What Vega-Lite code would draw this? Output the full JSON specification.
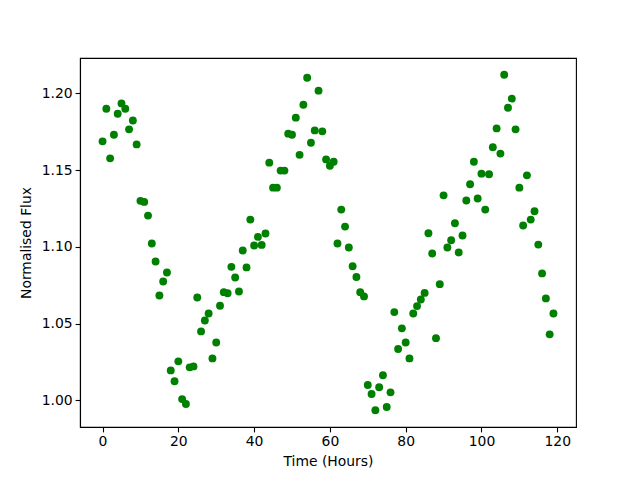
{
  "$schema": "https://vega.github.io/schema/vega-lite/v6.json",
  "autosize": {"type": "none"},
  "padding": {"left": 80, "top": 58, "right": 64, "bottom": 53},
  "width": 496,
  "height": 369,
  "background": "white",
  "config": {
    "view": {"stroke": "black", "strokeWidth": 1.1},
    "font": "DejaVu Sans",
    "axis": {
      "grid": false,
      "domainColor": "black",
      "domainWidth": 1.1,
      "tickColor": "black",
      "tickWidth": 1.1,
      "tickSize": 4.9,
      "labelColor": "black",
      "labelFont": "DejaVu Sans",
      "labelFontSize": 13.9,
      "labelPadding": 3,
      "titleColor": "black",
      "titleFont": "DejaVu Sans",
      "titleFontSize": 13.9,
      "titleFontWeight": "normal"
    }
  },
  "data": {
    "values": [
      {"t":0,"f":1.1688},{"t":1,"f":1.1900},{"t":2,"f":1.1577},{"t":3,"f":1.1731},{"t":4,"f":1.1868},
      {"t":5,"f":1.1935},{"t":6,"f":1.1900},{"t":7,"f":1.1766},{"t":8,"f":1.1824},{"t":9,"f":1.1668},
      {"t":10,"f":1.1300},{"t":11,"f":1.1293},{"t":12,"f":1.1204},{"t":13,"f":1.1022},{"t":14,"f":1.0905},
      {"t":15,"f":1.0683},{"t":16,"f":1.0774},{"t":17,"f":1.0833},{"t":18,"f":1.0195},{"t":19,"f":1.0124},
      {"t":20,"f":1.0254},{"t":21,"f":1.0008},{"t":22,"f":0.9976},{"t":23,"f":1.0215},{"t":24,"f":1.0221},
      {"t":25,"f":1.0670},{"t":26,"f":1.0449},{"t":27,"f":1.0520},{"t":28,"f":1.0566},{"t":29,"f":1.0273},
      {"t":30,"f":1.0377},{"t":31,"f":1.0616},{"t":32,"f":1.0705},{"t":33,"f":1.0698},{"t":34,"f":1.0870},
      {"t":35,"f":1.0800},{"t":36,"f":1.0709},{"t":37,"f":1.0976},{"t":38,"f":1.0866},{"t":39,"f":1.1178},
      {"t":40,"f":1.1009},{"t":41,"f":1.1065},{"t":42,"f":1.1013},{"t":43,"f":1.1087},{"t":44,"f":1.1549},
      {"t":45,"f":1.1386},{"t":46,"f":1.1386},{"t":47,"f":1.1497},{"t":48,"f":1.1497},{"t":49,"f":1.1738},
      {"t":50,"f":1.1731},{"t":51,"f":1.1842},{"t":52,"f":1.1600},{"t":53,"f":1.1926},{"t":54,"f":1.2102},
      {"t":55,"f":1.1679},{"t":56,"f":1.1759},{"t":57,"f":1.2018},{"t":58,"f":1.1753},{"t":59,"f":1.1570},
      {"t":60,"f":1.1529},{"t":61,"f":1.1555},{"t":62,"f":1.1022},{"t":63,"f":1.1243},{"t":64,"f":1.1132},
      {"t":65,"f":1.0996},{"t":66,"f":1.0874},{"t":67,"f":1.0804},{"t":68,"f":1.0705},{"t":69,"f":1.0677},
      {"t":70,"f":1.0100},{"t":71,"f":1.0041},{"t":72,"f":0.9935},{"t":73,"f":1.0085},{"t":74,"f":1.0163},
      {"t":75,"f":0.9956},{"t":76,"f":1.0052},{"t":77,"f":1.0575},{"t":78,"f":1.0334},{"t":79,"f":1.0469},
      {"t":80,"f":1.0377},{"t":81,"f":1.0273},{"t":82,"f":1.0566},{"t":83,"f":1.0614},{"t":84,"f":1.0657},
      {"t":85,"f":1.0700},{"t":86,"f":1.1089},{"t":87,"f":1.0957},{"t":88,"f":1.0405},{"t":89,"f":1.0757},
      {"t":90,"f":1.1336},{"t":91,"f":1.0996},{"t":92,"f":1.1043},{"t":93,"f":1.1154},{"t":94,"f":1.0963},
      {"t":95,"f":1.1074},{"t":96,"f":1.1302},{"t":97,"f":1.1408},{"t":98,"f":1.1555},{"t":99,"f":1.1315},
      {"t":100,"f":1.1477},{"t":101,"f":1.1243},{"t":102,"f":1.1473},{"t":103,"f":1.1649},{"t":104,"f":1.1772},
      {"t":105,"f":1.1608},{"t":106,"f":1.2122},{"t":107,"f":1.1907},{"t":108,"f":1.1966},{"t":109,"f":1.1766},
      {"t":110,"f":1.1386},{"t":111,"f":1.1139},{"t":112,"f":1.1466},{"t":113,"f":1.1178},{"t":114,"f":1.1232},
      {"t":115,"f":1.1015},{"t":116,"f":1.0827},{"t":117,"f":1.0664},{"t":118,"f":1.0430},{"t":119,"f":1.0566}
    ]
  },
  "mark": {"type": "point", "shape": "circle", "filled": true, "color": "#008000", "opacity": 1, "size": 62},
  "encoding": {
    "x": {
      "field": "t", "type": "quantitative",
      "scale": {"domain": [-5.95, 124.95], "nice": false, "zero": false},
      "axis": {"title": "Time (Hours)", "values": [0, 20, 40, 60, 80, 100, 120], "format": "d", "titlePadding": 6}
    },
    "y": {
      "field": "f", "type": "quantitative",
      "scale": {"domain": [0.9826, 1.2231], "nice": false, "zero": false},
      "axis": {"title": "Normalised Flux", "values": [1.0, 1.05, 1.1, 1.15, 1.2], "format": ".2f", "titlePadding": 8}
    }
  }
}
